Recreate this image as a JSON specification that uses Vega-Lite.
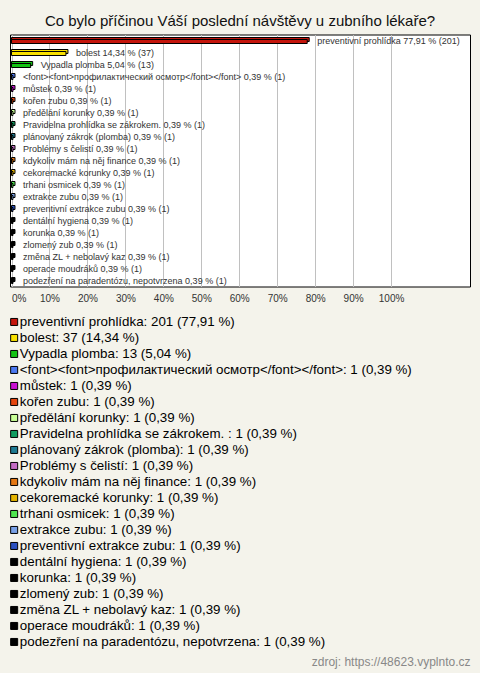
{
  "$schema": "https://vega.github.io/schema/vega-lite/v6.json",
  "autosize": "none",
  "width": 460,
  "height": 252,
  "padding": {"left": 10, "top": 34.5, "right": 10, "bottom": 386.5},
  "background": "#f4f3eb",
  "config": {
    "font": "Liberation Sans",
    "view": {"fill": "white", "stroke": "black", "strokeWidth": 1}
  },
  "title": {
    "text": "Co bylo příčinou Váší poslední návštěvy u zubního lékaře?",
    "fontSize": 15,
    "fontWeight": "normal",
    "color": "#111111",
    "anchor": "middle",
    "frame": "group",
    "offset": 6
  },
  "data": {
    "values": [
      {"name": "preventivní prohlídka", "count": 201, "pct": 77.91, "bar": "preventivní prohlídka 77,91 % (201)", "legend": "preventivní prohlídka: 201 (77,91 %)"},
      {"name": "bolest", "count": 37, "pct": 14.34, "bar": "bolest 14,34 % (37)", "legend": "bolest: 37 (14,34 %)"},
      {"name": "Vypadla plomba", "count": 13, "pct": 5.04, "bar": "Vypadla plomba 5,04 % (13)", "legend": "Vypadla plomba: 13 (5,04 %)"},
      {"name": "<font><font>профилактический осмотр</font></font>", "count": 1, "pct": 0.39, "bar": "<font><font>профилактический осмотр</font></font> 0,39 % (1)", "legend": "<font><font>профилактический осмотр</font></font>: 1 (0,39 %)"},
      {"name": "můstek", "count": 1, "pct": 0.39, "bar": "můstek 0,39 % (1)", "legend": "můstek: 1 (0,39 %)"},
      {"name": "kořen zubu", "count": 1, "pct": 0.39, "bar": "kořen zubu 0,39 % (1)", "legend": "kořen zubu: 1 (0,39 %)"},
      {"name": "předělání korunky", "count": 1, "pct": 0.39, "bar": "předělání korunky 0,39 % (1)", "legend": "předělání korunky: 1 (0,39 %)"},
      {"name": "Pravidelna prohlídka se zákrokem.", "count": 1, "pct": 0.39, "bar": "Pravidelna prohlídka se zákrokem.  0,39 % (1)", "legend": "Pravidelna prohlídka se zákrokem. : 1 (0,39 %)"},
      {"name": "plánovaný zákrok (plomba)", "count": 1, "pct": 0.39, "bar": "plánovaný zákrok (plomba) 0,39 % (1)", "legend": "plánovaný zákrok (plomba): 1 (0,39 %)"},
      {"name": "Problémy s čelistí", "count": 1, "pct": 0.39, "bar": "Problémy s čelistí 0,39 % (1)", "legend": "Problémy s čelistí: 1 (0,39 %)"},
      {"name": "kdykoliv mám na něj finance", "count": 1, "pct": 0.39, "bar": "kdykoliv mám na něj finance 0,39 % (1)", "legend": "kdykoliv mám na něj finance: 1 (0,39 %)"},
      {"name": "cekoremacké korunky", "count": 1, "pct": 0.39, "bar": "cekoremacké korunky 0,39 % (1)", "legend": "cekoremacké korunky: 1 (0,39 %)"},
      {"name": "trhani osmicek", "count": 1, "pct": 0.39, "bar": "trhani osmicek 0,39 % (1)", "legend": "trhani osmicek: 1 (0,39 %)"},
      {"name": "extrakce zubu", "count": 1, "pct": 0.39, "bar": "extrakce zubu 0,39 % (1)", "legend": "extrakce zubu: 1 (0,39 %)"},
      {"name": "preventivní extrakce zubu", "count": 1, "pct": 0.39, "bar": "preventivní extrakce zubu 0,39 % (1)", "legend": "preventivní extrakce zubu: 1 (0,39 %)"},
      {"name": "dentální hygiena", "count": 1, "pct": 0.39, "bar": "dentální hygiena 0,39 % (1)", "legend": "dentální hygiena: 1 (0,39 %)"},
      {"name": "korunka", "count": 1, "pct": 0.39, "bar": "korunka 0,39 % (1)", "legend": "korunka: 1 (0,39 %)"},
      {"name": "zlomený zub", "count": 1, "pct": 0.39, "bar": "zlomený zub 0,39 % (1)", "legend": "zlomený zub: 1 (0,39 %)"},
      {"name": "změna ZL + nebolavý kaz", "count": 1, "pct": 0.39, "bar": "změna ZL + nebolavý kaz 0,39 % (1)", "legend": "změna ZL + nebolavý kaz: 1 (0,39 %)"},
      {"name": "operace moudráků", "count": 1, "pct": 0.39, "bar": "operace moudráků 0,39 % (1)", "legend": "operace moudráků: 1 (0,39 %)"},
      {"name": "podezření na paradentózu, nepotvrzena", "count": 1, "pct": 0.39, "bar": "podezření na paradentózu, nepotvrzena 0,39 % (1)", "legend": "podezření na paradentózu, nepotvrzena: 1 (0,39 %)"}
    ]
  },
  "encoding": {
    "y": {"field": "name", "type": "nominal", "sort": null, "axis": null, "scale": {"paddingInner": 0, "paddingOuter": 0}}
  },
  "layer": [
    {
      "mark": {"type": "bar", "size": 4, "xOffset": 2, "yOffset": -1, "stroke": "black", "strokeWidth": 1},
      "encoding": {
        "x": {
          "field": "pct", "type": "quantitative",
          "scale": {"domain": [-0.4, 120.8], "nice": false, "zero": false},
          "axis": {
            "values": [0, 10, 20, 30, 40, 50, 60, 70, 80, 90, 100],
            "labelExpr": "datum.value + '%'",
            "grid": true, "gridColor": "#c0c0c0", "gridWidth": 1,
            "ticks": false, "domain": false,
            "labelFontSize": 10, "labelColor": "#333333", "labelPadding": 7,
            "labelFlush": false,
            "labelAlign": {"condition": {"test": "datum.value == 0", "value": "left"}, "value": "center"},
            "title": "zdroj: https://48623.vyplnto.cz",
            "titleX": 460, "titleY": 375, "titleAlign": "right", "titleBaseline": "middle", "titleAnchor": "end",
            "titleFontSize": 12, "titleFontWeight": "normal", "titleColor": "#888888"
          }
        },
        "x2": {"datum": 0},
        "color": {
          "field": "legend", "type": "nominal",
          "scale": {
            "domain": [
              "preventivní prohlídka: 201 (77,91 %)",
              "bolest: 37 (14,34 %)",
              "Vypadla plomba: 13 (5,04 %)",
              "<font><font>профилактический осмотр</font></font>: 1 (0,39 %)",
              "můstek: 1 (0,39 %)",
              "kořen zubu: 1 (0,39 %)",
              "předělání korunky: 1 (0,39 %)",
              "Pravidelna prohlídka se zákrokem. : 1 (0,39 %)",
              "plánovaný zákrok (plomba): 1 (0,39 %)",
              "Problémy s čelistí: 1 (0,39 %)",
              "kdykoliv mám na něj finance: 1 (0,39 %)",
              "cekoremacké korunky: 1 (0,39 %)",
              "trhani osmicek: 1 (0,39 %)",
              "extrakce zubu: 1 (0,39 %)",
              "preventivní extrakce zubu: 1 (0,39 %)",
              "dentální hygiena: 1 (0,39 %)",
              "korunka: 1 (0,39 %)",
              "zlomený zub: 1 (0,39 %)",
              "změna ZL + nebolavý kaz: 1 (0,39 %)",
              "operace moudráků: 1 (0,39 %)",
              "podezření na paradentózu, nepotvrzena: 1 (0,39 %)"
            ],
            "range": ["#c4150c", "#f8e000", "#14c314", "#4b78f0", "#c80fd2", "#e4460f", "#c8ff96", "#0f9c60", "#1e7a92", "#c46cc4", "#e47814", "#e4b400", "#50e650", "#78a0e6", "#2a50c0", "#000000", "#000000", "#000000", "#000000", "#000000", "#000000"]
          },
          "legend": {
            "orient": "none", "legendX": -2.5, "legendY": 280.8,
            "title": null, "direction": "vertical",
            "symbolType": "square", "symbolSize": 49,
            "symbolStrokeColor": "black", "symbolStrokeWidth": 1, "symbolOpacity": 1,
            "labelFontSize": 13.33, "labelColor": "black", "labelLimit": 460,
            "rowPadding": 2.0, "labelOffset": -1, "padding": 0, "offset": 0
          }
        }
      }
    },
    {
      "mark": {"type": "bar", "size": 4, "yOffset": 1, "stroke": "black", "strokeWidth": 1},
      "encoding": {
        "x": {"field": "pct", "type": "quantitative"},
        "x2": {"datum": 0},
        "color": {"field": "legend", "type": "nominal"}
      }
    },
    {
      "mark": {"type": "text", "align": "left", "baseline": "middle", "dx": 10, "fontSize": 9, "color": "#333333"},
      "encoding": {
        "x": {"field": "pct", "type": "quantitative"},
        "text": {"field": "bar"}
      }
    }
  ]
}
